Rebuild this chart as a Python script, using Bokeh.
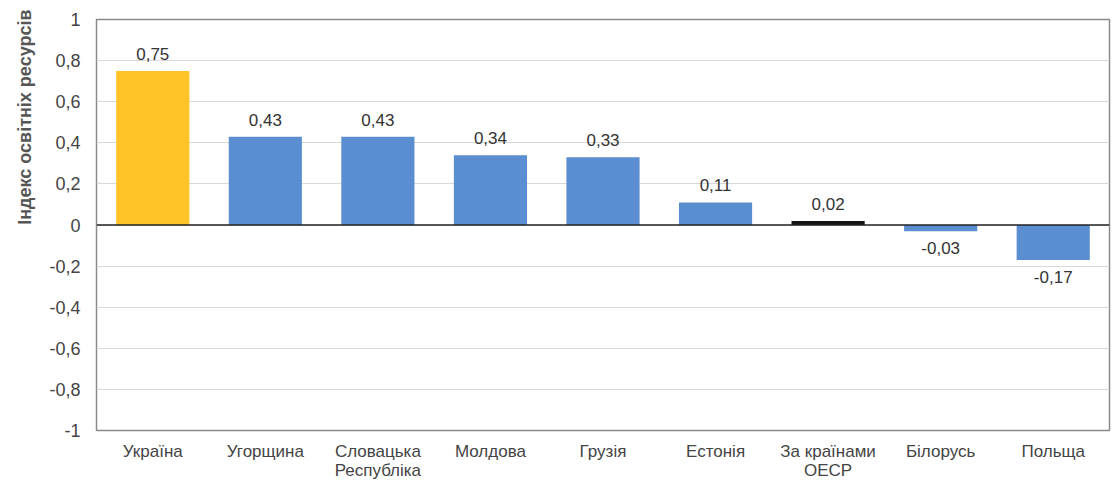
from bokeh.plotting import figure
from bokeh.models import ColumnDataSource, Span, CustomJSTickFormatter, FixedTicker, Title, CDSView, IndexFilter
from bokeh.embed import file_html
from bokeh.resources import INLINE
from bokeh.core.properties import value

countries = ["Україна", "Угорщина", "Словацька\nРеспубліка", "Молдова", "Грузія",
             "Естонія", "За країнами\nОЕСР", "Білорусь", "Польща"]
values = [0.75, 0.43, 0.43, 0.34, 0.33, 0.11, 0.02, -0.03, -0.17]
colors = ["#FFC328", "#5B8ED0", "#5B8ED0", "#5B8ED0", "#5B8ED0",
          "#5B8ED0", "#141414", "#5B8ED0", "#5B8ED0"]
y_ticks = [-1, -0.8, -0.6, -0.4, -0.2, 0, 0.2, 0.4, 0.6, 0.8, 1]

labels = [("%.2f" % v).replace(".", ",") for v in values]
offsets = [-11 if v >= 0 else 11 for v in values]

src = ColumnDataSource(dict(x=countries, top=values, color=colors, label=labels, yoff=offsets))

FONT = "Liberation Sans"

p = figure(x_range=countries, y_range=(-1, 1), width=1112, height=482,
           output_backend="svg", toolbar_location=None,
           min_border_left=95, min_border_right=3, min_border_top=19, min_border_bottom=0)

p.vbar(x="x", top="top", bottom=0, width=0.65, fill_color="color", line_color=None, source=src)
pos = [i for i, v in enumerate(values) if v >= 0]
neg = [i for i, v in enumerate(values) if v < 0]
p.text(x="x", y="top", text="label", text_align="center", text_baseline="bottom",
       y_offset="yoff", text_font=value(FONT), text_font_size="17px", text_color="#333333",
       source=src, view=CDSView(filter=IndexFilter(pos)))
p.text(x="x", y="top", text="label", text_align="center", text_baseline="top",
       y_offset="yoff", text_font=value(FONT), text_font_size="17px", text_color="#333333",
       source=src, view=CDSView(filter=IndexFilter(neg)))

p.add_layout(Span(location=0, dimension="width", line_color="#222222", line_width=1.5))

p.outline_line_color = "#8a8a8a"
p.outline_line_width = 1.5
p.xgrid.grid_line_color = None
p.ygrid.grid_line_color = "#d9d9d9"
p.ygrid.grid_line_width = 1

p.yaxis.ticker = FixedTicker(ticks=y_ticks)
p.yaxis.formatter = CustomJSTickFormatter(code="""
    var v = Math.round(tick * 10) / 10;
    if (Math.abs(v) < 1e-9) { return '0'; }
    return v.toString().replace('.', ',');
""")
for ax in (p.xaxis, p.yaxis):
    ax.axis_line_color = None
    ax.major_tick_line_color = None
    ax.minor_tick_line_color = None
    ax.major_label_text_font = FONT
    ax.major_label_text_font_size = "17px"
    ax.major_label_text_color = "#444444"
p.yaxis.major_label_text_font_size = "18px"
p.yaxis.major_label_standoff = 10
p.xaxis.major_label_standoff = 5
p.xaxis.major_label_text_line_height = 1.0

p.add_layout(Title(text="Індекс освітніх ресурсів", align="right", text_font=FONT,
                   text_font_size="18px", text_font_style="bold", text_color="#555555",
                   offset=-10, standoff=24), "left")

open("out.html", "w").write(file_html(p, INLINE))
